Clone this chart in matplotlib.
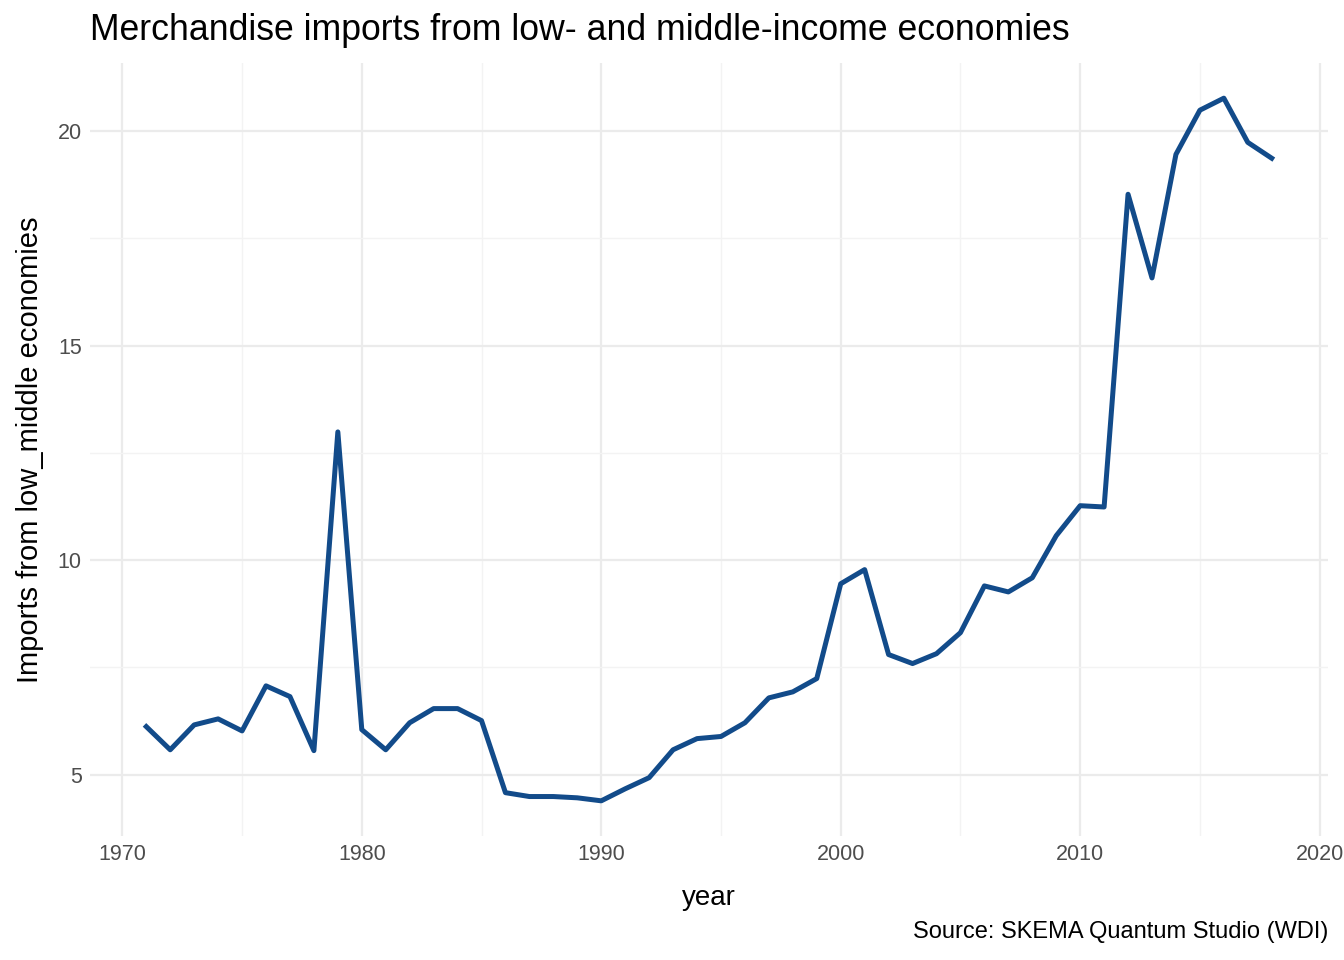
import matplotlib
matplotlib.use("Agg")
import matplotlib.pyplot as plt
from matplotlib.ticker import MultipleLocator

plt.rcParams['font.family'] = ['Liberation Sans', 'DejaVu Sans']

years = list(range(1971, 2019))
imports = [
    6.12, 5.58, 6.16, 6.30, 6.02, 7.07, 6.82, 5.56, 12.99, 6.05,
    5.58, 6.21, 6.54, 6.54, 6.26, 4.58, 4.49, 4.49, 4.46, 4.39,
    4.67, 4.93, 5.58, 5.84, 5.89, 6.21, 6.79, 6.93, 7.24, 9.45,
    9.78, 7.80, 7.59, 7.82, 8.31, 9.40, 9.26, 9.59, 10.57, 11.27,
    11.24, 18.53, 16.58, 19.46, 20.49, 20.77, 19.74, 19.37,
]


def main():
    fig = plt.figure(figsize=(13.44, 9.6), dpi=100)
    ax = fig.add_axes([90 / 1344, 1 - 836 / 960, 1238 / 1344, 773 / 960])

    ax.plot(years, imports, color="#124b8a", linewidth=3.6, solid_joinstyle="round")

    ax.set_xlim(1968.65, 2020.35)
    ax.set_ylim(3.57, 21.59)
    ax.xaxis.set_major_locator(MultipleLocator(10))
    ax.xaxis.set_minor_locator(MultipleLocator(5))
    ax.yaxis.set_major_locator(MultipleLocator(5))
    ax.yaxis.set_minor_locator(MultipleLocator(2.5))
    ax.grid(which="major", color="#ebebeb", linewidth=1.6)
    ax.grid(which="minor", color="#f3f3f3", linewidth=1.0)
    ax.set_axisbelow(True)
    for s in ax.spines.values():
        s.set_visible(False)
    ax.tick_params(which="both", length=0, labelsize=15.5, labelcolor="#4d4d4d", pad=6)

    ax.set_xlabel("year", fontsize=20, labelpad=14)
    ax.set_ylabel("Imports from low_middle economies", fontsize=21, labelpad=10)
    fig.text(90 / 1344, 1 - 30 / 960, "Merchandise imports from low- and middle-income economies",
             fontsize=25.7, va="center", ha="left")
    fig.text(1328 / 1344, 1 - 932 / 960, "Source: SKEMA Quantum Studio (WDI)",
             fontsize=17, va="center", ha="right")

    fig.savefig("out.png", dpi=100)


if __name__ == "__main__":
    main()
